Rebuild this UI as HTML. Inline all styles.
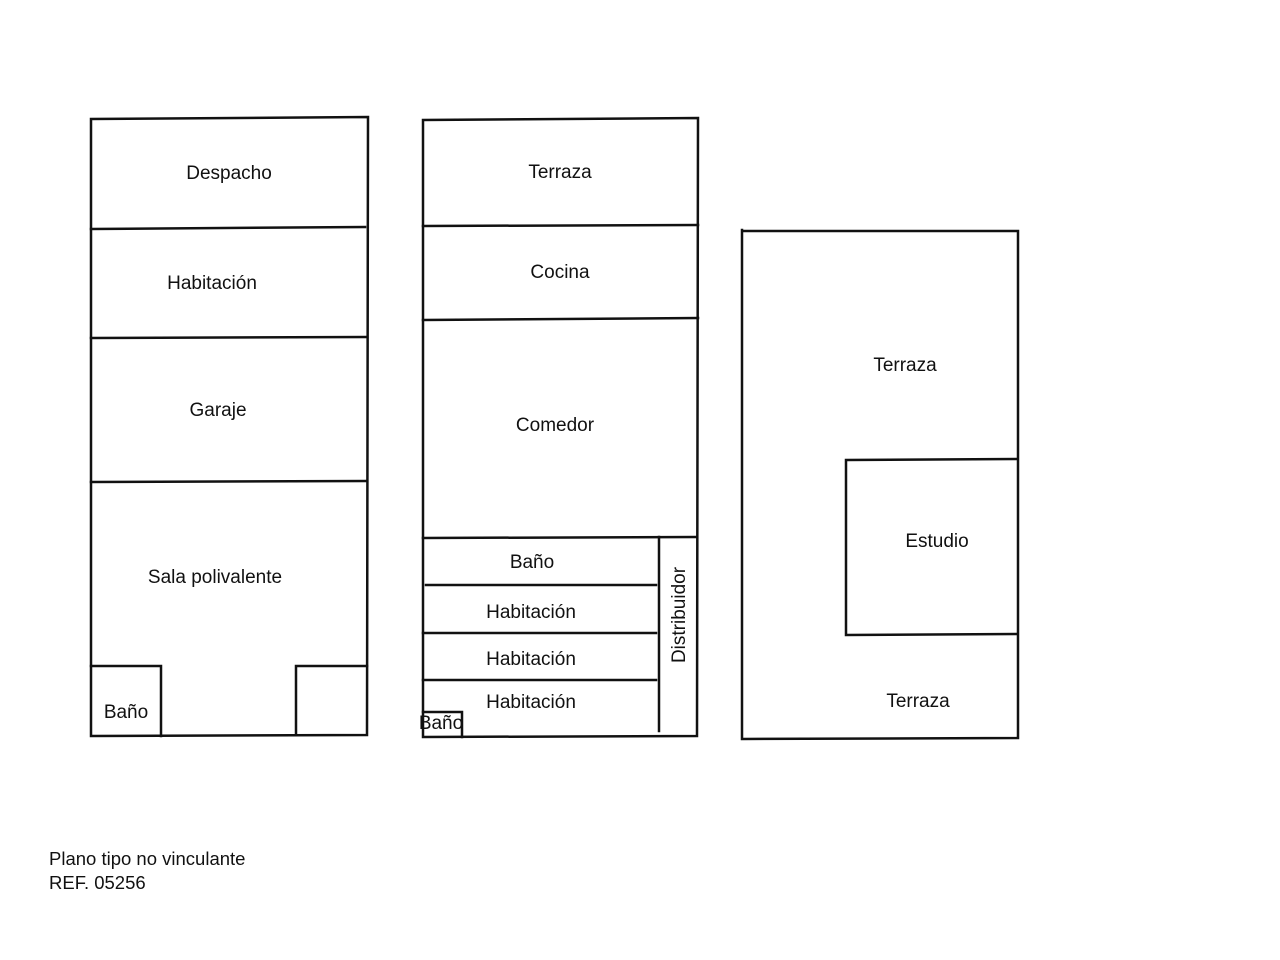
<!DOCTYPE html>
<html><head><meta charset="utf-8"><style>
html,body{margin:0;padding:0;background:#fff;}
svg{display:block}
text{font-family:"Liberation Sans","DejaVu Sans",sans-serif;font-size:19px;fill:#111;}
</style></head><body>
<svg width="1280" height="960" viewBox="0 0 1280 960">
<g stroke="#111" stroke-width="2.5" fill="none" stroke-linecap="square">
<!-- plan 1 -->
<path d="M91 119 L91 736 L367 735 L368 117 L91 119"/>
<line x1="91" y1="229" x2="365" y2="227"/>
<line x1="91" y1="338" x2="367" y2="337"/>
<line x1="91" y1="482" x2="367" y2="481"/>
<path d="M91 666 L161 666 L161 736"/>
<path d="M296 735 L296 666 L367 666"/>
<!-- plan 2 -->
<path d="M423 120 L423 737 L697 736 L698 118 L423 120"/>
<line x1="423" y1="226" x2="698" y2="225"/>
<line x1="423" y1="320" x2="698" y2="318"/>
<line x1="423" y1="538" x2="696" y2="537"/>
<line x1="426" y1="585" x2="656" y2="585"/>
<line x1="423" y1="633" x2="656" y2="633"/>
<line x1="423" y1="680" x2="656" y2="680"/>
<line x1="659" y1="537" x2="659" y2="731"/>
<path d="M423 712 L462 712 L462 737"/>
<!-- plan 3 -->
<path d="M742 230 L742 739 L1018 738 L1018 231 L742 231"/>
<path d="M1016 459 L846 460 L846 635 L1016 634"/>
</g>
<text x="229" y="179" text-anchor="middle">Despacho</text>
<text x="212" y="289" text-anchor="middle">Habitación</text>
<text x="218" y="416" text-anchor="middle">Garaje</text>
<text x="215" y="583" text-anchor="middle">Sala polivalente</text>
<text x="126" y="718" text-anchor="middle">Baño</text>
<text x="560" y="178" text-anchor="middle">Terraza</text>
<text x="560" y="278" text-anchor="middle">Cocina</text>
<text x="555" y="431" text-anchor="middle">Comedor</text>
<text x="532" y="568" text-anchor="middle">Baño</text>
<text x="531" y="618" text-anchor="middle">Habitación</text>
<text x="531" y="665" text-anchor="middle">Habitación</text>
<text x="531" y="708" text-anchor="middle">Habitación</text>
<text x="441" y="729" text-anchor="middle">Baño</text>
<text transform="translate(685,615) rotate(-90)" text-anchor="middle">Distribuidor</text>
<text x="905" y="371" text-anchor="middle">Terraza</text>
<text x="937" y="547" text-anchor="middle">Estudio</text>
<text x="918" y="707" text-anchor="middle">Terraza</text>
<text x="49" y="865" style="font-size:18.5px">Plano tipo no vinculante</text>
<text x="49" y="889" style="font-size:18.5px">REF. 05256</text>
</svg>
</body></html>
